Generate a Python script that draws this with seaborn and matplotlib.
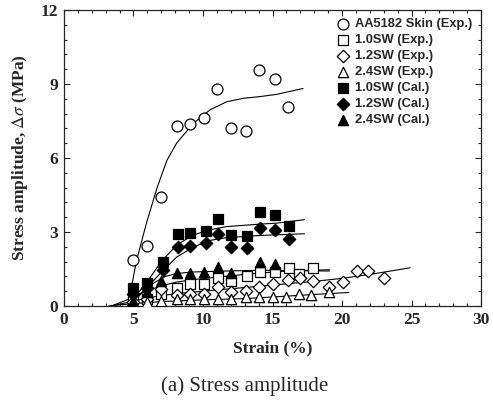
import matplotlib
matplotlib.use("Agg")
import matplotlib.pyplot as plt
import seaborn as sns
import pandas as pd
from matplotlib.ticker import MultipleLocator
from matplotlib import font_manager

# ---- data ----
skin_x = [5.0, 6.0, 7.0, 8.15, 9.1, 10.1, 11.0, 12.0, 13.1, 14.0, 15.15, 16.1]
skin_y = [1.86, 2.44, 4.41, 7.30, 7.38, 7.61, 8.78, 7.23, 7.11, 9.55, 9.22, 8.07]

sw10e_x = [5.0, 6.0, 7.0, 8.15, 9.1, 10.1, 11.1, 12.0, 13.2, 14.1, 15.2, 16.2, 16.9, 17.9]
sw10e_y = [0.28, 0.30, 0.50, 0.72, 0.88, 0.89, 1.15, 1.01, 1.22, 1.39, 1.39, 1.53, 1.30, 1.53]

sw12e_x = [5.0, 6.0, 7.0, 8.1, 9.1, 10.1, 11.1, 12.0, 13.1, 14.0, 15.0, 16.1, 17.0, 17.9, 19.1, 20.1, 21.1, 21.9, 23.0]
sw12e_y = [0.15, 0.30, 0.70, 0.45, 0.50, 0.50, 0.76, 0.55, 0.60, 0.78, 0.88, 1.05, 1.12, 1.03, 0.78, 0.99, 1.43, 1.40, 1.12]

sw24e_x = [5.0, 6.0, 7.0, 8.1, 9.1, 10.1, 11.1, 12.0, 13.1, 14.0, 15.0, 16.0, 16.9, 17.8, 19.1]
sw24e_y = [0.10, 0.15, 0.20, 0.27, 0.28, 0.28, 0.30, 0.30, 0.35, 0.38, 0.38, 0.38, 0.47, 0.45, 0.57]

sw10c_x = [5.0, 6.0, 7.1, 8.2, 9.1, 10.2, 11.1, 12.0, 13.2, 14.1, 15.2, 16.2]
sw10c_y = [0.74, 0.95, 1.78, 2.90, 2.94, 3.05, 3.51, 2.88, 2.84, 3.81, 3.69, 3.24]

sw12c_x = [5.0, 6.0, 7.1, 8.2, 9.1, 10.2, 11.1, 12.0, 13.2, 14.1, 15.2, 16.2]
sw12c_y = [0.50, 0.72, 1.45, 2.40, 2.43, 2.54, 2.92, 2.40, 2.34, 3.16, 3.08, 2.70]

sw24c_x = [5.0, 6.0, 7.0, 8.1, 9.1, 10.1, 11.1, 12.0, 14.1, 15.2]
sw24c_y = [0.20, 0.55, 1.00, 1.32, 1.35, 1.39, 1.59, 1.35, 1.77, 1.69]

# fitted trend curves
fit_skin_x = [4.6, 5.2, 5.95, 6.7, 7.4, 8.1, 9.3, 10.5, 11.7, 12.9, 14.1, 15.3, 16.5, 17.2]
fit_skin_y = [0.0, 1.8, 3.4, 4.8, 5.9, 6.6, 7.4, 7.95, 8.28, 8.42, 8.49, 8.58, 8.73, 8.82]
fit_10c_x = [4.6, 5.3, 6.0, 7.0, 8.1, 9.3, 10.5, 11.7, 14.1, 15.3, 17.3]
fit_10c_y = [0.0, 0.5, 1.0, 1.8, 2.47, 2.88, 3.09, 3.22, 3.32, 3.36, 3.5]
fit_12c_x = [4.6, 5.3, 6.0, 7.0, 8.1, 9.3, 10.5, 11.7, 14.1, 17.3]
fit_12c_y = [0.0, 0.35, 0.76, 1.37, 1.98, 2.39, 2.66, 2.77, 2.86, 2.93]
fit_24c_x = [4.6, 5.0, 5.7, 6.5, 7.3, 8.1, 9.3, 11.7, 14.1, 19.1]
fit_24c_y = [0.0, 0.25, 0.6, 0.95, 1.2, 1.32, 1.38, 1.42, 1.45, 1.42]
fit_10e_x = [3.4, 4.8, 6.0, 7.0, 8.1, 9.3, 11.7, 14.1, 16.5, 19.1]
fit_10e_y = [0.0, 0.31, 0.62, 0.82, 0.97, 1.07, 1.21, 1.34, 1.43, 1.47]
fit_12e_x = [3.4, 5.0, 6.0, 8.0, 10.0, 12.0, 14.0, 16.0, 18.0, 20.0, 22.0, 24.9]
fit_12e_y = [0.0, 0.2, 0.33, 0.5, 0.6, 0.7, 0.8, 0.9, 1.0, 1.12, 1.28, 1.55]
fit_24e_x = [3.2, 5.0, 7.0, 10.0, 13.0, 16.0, 18.0, 20.5]
fit_24e_y = [0.0, 0.1, 0.18, 0.25, 0.3, 0.4, 0.47, 0.55]

labels = ["AA5182 Skin (Exp.)", "1.0SW (Exp.)", "1.2SW (Exp.)", "2.4SW (Exp.)",
          "1.0SW (Cal.)", "1.2SW (Cal.)", "2.4SW (Cal.)"]

x_ticks = [0, 5, 10, 15, 20, 25, 30]
y_ticks = [0, 3, 6, 9, 12]

sns.set_style("ticks")
plt.rcParams["font.family"] = ["Liberation Serif", "DejaVu Serif"]
plt.rcParams["mathtext.fontset"] = "stix"

installed = {f.name for f in font_manager.fontManager.ttflist}
leg_family = ["Liberation Sans Narrow"] if "Liberation Sans Narrow" in installed else ["Liberation Sans", "DejaVu Sans"]
leg_size = 10.5 if "Liberation Sans Narrow" in installed else 9.3

fig = plt.figure(figsize=(4.93, 4.05), dpi=100)
ax = fig.add_axes([0.1298, 0.2444, 0.8459, 0.7309])

# curves
for fx, fy in [(fit_skin_x, fit_skin_y), (fit_10c_x, fit_10c_y), (fit_12c_x, fit_12c_y),
               (fit_24c_x, fit_24c_y), (fit_10e_x, fit_10e_y), (fit_12e_x, fit_12e_y),
               (fit_24e_x, fit_24e_y)]:
    sns.lineplot(x=fx, y=fy, ax=ax, color="black", lw=0.8, sort=False, legend=False)

series = [
    (skin_x, skin_y, "o", "white", 62),
    (sw10e_x, sw10e_y, "s", "white", 48),
    (sw12e_x, sw12e_y, "D", "white", 40),
    (sw24e_x, sw24e_y, "^", "white", 55),
    (sw10c_x, sw10c_y, "s", "black", 48),
    (sw12c_x, sw12c_y, "D", "black", 40),
    (sw24c_x, sw24c_y, "^", "black", 55),
]
for (sx, sy, m, fc, s), lab in zip(series, labels):
    df = pd.DataFrame({"x": sx, "y": sy})
    sns.scatterplot(data=df, x="x", y="y", ax=ax, marker=m, s=s, facecolor=fc,
                    edgecolor="black", linewidth=0.9, label=lab, zorder=3)

ax.set_xlim(0, 30)
ax.set_ylim(0, 12)
ax.set_xticks(x_ticks)
ax.set_yticks(y_ticks)
ax.xaxis.set_minor_locator(MultipleLocator(1))
ax.yaxis.set_minor_locator(MultipleLocator(0.6))
ax.tick_params(which="both", direction="in", top=True, right=True, width=0.8)
ax.tick_params(which="major", length=4, labelsize=12.5, pad=4)
ax.tick_params(which="minor", length=2)
for lab in ax.get_xticklabels() + ax.get_yticklabels():
    lab.set_fontweight("bold")
for sp in ax.spines.values():
    sp.set_linewidth(0.9)

ax.set_xlabel("Strain (%)", fontsize=12.5, fontweight="bold", labelpad=9)
ax.set_ylabel("Stress amplitude, $\\Delta\\sigma$ (MPa)", fontsize=12.5,
              fontweight="bold", labelpad=8)

leg = ax.legend(loc="upper right", bbox_to_anchor=(1.0, 1.0), frameon=False,
                prop={"family": leg_family, "weight": "bold", "size": leg_size},
                handletextpad=0.35, labelspacing=0.3, borderaxespad=0.25, handlelength=1.2,
                markerscale=1.0)

fig.text(0.497, 0.047, "(a) Stress amplitude", ha="center", va="center", fontsize=15)

fig.savefig("out.png", dpi=100)
